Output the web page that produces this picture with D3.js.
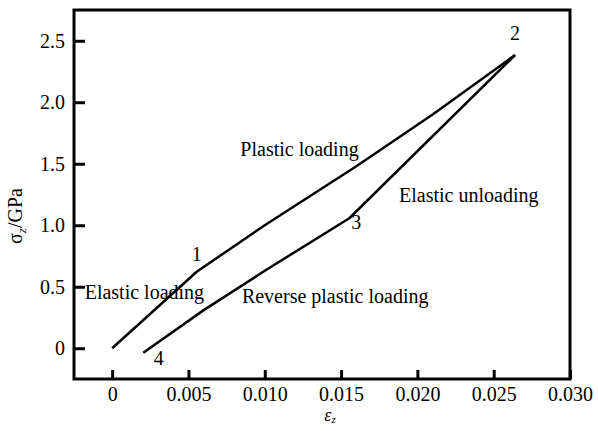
<!DOCTYPE html>
<html>
<head>
<meta charset="utf-8">
<script src="https://cdn.jsdelivr.net/npm/d3@7"></script>
<style>
    body { margin: 0; background: #fff; }
    .frame { fill: none; stroke: #000; stroke-width: 3; }
    .axis path { display: none; }
    .axis line { stroke: #000; stroke-width: 3; }
    .curve { fill: none; stroke: #000; stroke-width: 2.5; stroke-linejoin: round; }
</style>
</head>
<body>
<script>
(function (){

    //data
    var loadStrain = [0, 0.00554, 0.0100, 0.0160, 0.0210, 0.0264];
    var loadStress = [0, 0.622, 1.00, 1.48, 1.90, 2.384];
    var unloadStrain = [0.0264, 0.01554, 0.0100, 0.0060, 0.00204];
    var unloadStress = [2.384, 1.057, 0.63, 0.31, -0.036];

    var xTicks = [0, 0.005, 0.010, 0.015, 0.020, 0.025, 0.030];
    var xTickLabels = ["0", "0.005", "0.010", "0.015", "0.020", "0.025", "0.030"];
    var yTicks = [0, 0.5, 1.0, 1.5, 2.0, 2.5];
    var yTickLabels = ["0", "0.5", "1.0", "1.5", "2.0", "2.5"];

    //point numbers and region notes [strain, stress, text]
    var pointLabels = [
        [0.00554, 0.71, "1"],
        [0.0264, 2.51, "2"],
        [0.0160, 0.97, "3"],
        [0.00306, -0.14, "4"]
    ];
    var notes = [
        [-0.0018, 0.40, "Elastic loading"],
        [0.0084, 1.56, "Plastic loading"],
        [0.0188, 1.19, "Elastic unloading"],
        [0.0085, 0.37, "Reverse plastic loading"]
    ];

    var serif = "'Liberation Serif', 'Times New Roman', 'DejaVu Serif', serif";

    window.onload = setChart();

    function setChart(){
        //frame dimensions
        var width = 598,
            height = 431,
            left = 74,
            right = 570,
            top = 10,
            bottom = 379;

        var svg = d3.select("body")
            .append("svg")
            .attr("width", width)
            .attr("height", height)
            .style("font-family", serif)
            .style("font-size", "20px");

        //scales
        var x = d3.scaleLinear()
            .domain([-0.0025, 0.030])
            .range([left, right]);

        var y = d3.scaleLinear()
            .domain([-0.25, 2.75])
            .range([bottom, top]);

        //axes with inward ticks
        var xAxis = d3.axisBottom(x)
            .tickValues(xTicks)
            .tickFormat(function(d, i){ return xTickLabels[i]; })
            .tickSizeInner(-9)
            .tickSizeOuter(0)
            .tickPadding(8);

        var yAxis = d3.axisLeft(y)
            .tickValues(yTicks)
            .tickFormat(function(d, i){ return yTickLabels[i]; })
            .tickSizeInner(-11)
            .tickSizeOuter(0)
            .tickPadding(9);

        svg.append("g")
            .attr("class", "axis")
            .attr("transform", "translate(0," + bottom + ")")
            .call(xAxis)
            .attr("font-family", serif)
            .attr("font-size", 20)
            .selectAll("text")
            .style("font-family", serif)
            .style("font-size", "20px")
            .attr("fill", "#000");

        svg.append("g")
            .attr("class", "axis")
            .attr("transform", "translate(" + left + ",0)")
            .call(yAxis)
            .attr("font-family", serif)
            .attr("font-size", 20)
            .selectAll("text")
            .style("font-family", serif)
            .style("font-size", "20px")
            .attr("fill", "#000");

        //frame
        svg.append("rect")
            .attr("class", "frame")
            .attr("x", left)
            .attr("y", top)
            .attr("width", right - left)
            .attr("height", bottom - top);

        //loading and unloading paths
        var line = d3.line()
            .x(function(d){ return x(d[0]); })
            .y(function(d){ return y(d[1]); });

        var loadPts = loadStrain.map(function(v, i){ return [v, loadStress[i]]; });
        var unloadPts = unloadStrain.map(function(v, i){ return [v, unloadStress[i]]; });

        svg.append("path")
            .datum(loadPts)
            .attr("class", "curve")
            .attr("d", line);

        svg.append("path")
            .datum(unloadPts)
            .attr("class", "curve")
            .attr("d", line);

        //point numbers
        svg.selectAll(".num")
            .data(pointLabels)
            .enter()
            .append("text")
            .attr("class", "num")
            .attr("text-anchor", "middle")
            .attr("x", function(d){ return x(d[0]); })
            .attr("y", function(d){ return y(d[1]); })
            .text(function(d){ return d[2]; });

        //region notes
        svg.selectAll(".region")
            .data(notes)
            .enter()
            .append("text")
            .attr("class", "region")
            .attr("x", function(d){ return x(d[0]); })
            .attr("y", function(d){ return y(d[1]); })
            .text(function(d){ return d[2]; });

        //axis titles
        var xTitle = svg.append("text")
            .attr("text-anchor", "middle")
            .attr("x", 330)
            .attr("y", 421)
            .style("font-size", "18px")
            .attr("font-style", "italic");
        xTitle.append("tspan").text("ε");
        xTitle.append("tspan").style("font-size", "11px").attr("dy", 2).text("z");

        var yTitle = svg.append("text")
            .attr("text-anchor", "middle")
            .attr("transform", "translate(22,216) rotate(-90)");
        yTitle.append("tspan").text("σ");
        yTitle.append("tspan").style("font-size", "13px").attr("dy", 4).attr("font-style", "italic").text("z");
        yTitle.append("tspan").attr("dy", -4).text("/GPa");
    };

})();
</script>
</body>
</html>
